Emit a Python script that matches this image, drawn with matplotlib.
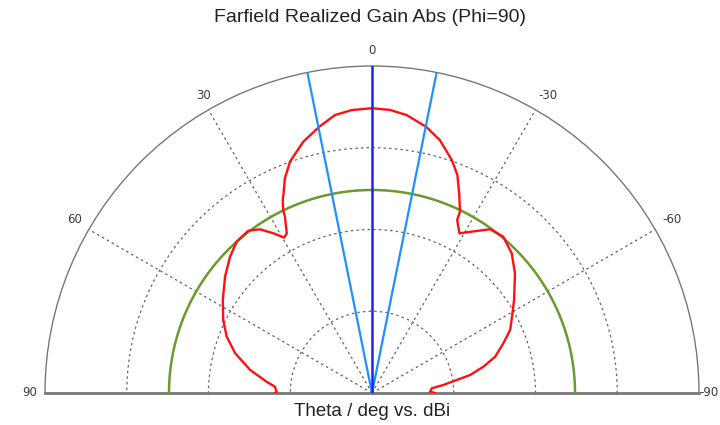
import numpy as np
import matplotlib
matplotlib.use("Agg")
import matplotlib.pyplot as plt

# ---- data ----
theta_deg = [-90, -88.7, -85.5, -83.6, -81.3, -79.6, -76.7, -73.6, -69.3, -65.5,
             -62.4, -56.8, -50.1, -45, -40, -35.8, -31.3, -28.7, -26.2, -25.9,
             -23.8, -21.4, -18.9, -15.0, -11.6, -7.1, -3.6, 0, 4.1, 7.6,
             11.2, 15.3, 19.5, 22.1, 24.1, 24.8, 25.9, 26.3, 28.1, 29.5,
             31.7, 34.4, 37.3, 41.8, 46.2, 51.6, 58.1, 63.9, 68.8, 73.8,
             79.3, 83.9, 86.3, 89.2, 90]
gain_dbi = [-6.69, -6.87, -6.80, -6.37, -5.86, -5.34, -4.80, -4.29, -3.85, -3.43,
            -3.22, -2.77, -2.16, -1.75, -1.51, -1.59, -2.08, -2.32, -1.92, -1.61,
            -1.06, -0.41, 0.04, 0.61, 0.96, 1.28, 1.41, 1.45, 1.41, 1.29,
            0.96, 0.56, 0.01, -0.50, -1.04, -1.19, -1.54, -1.79, -2.36, -2.45,
            -2.11, -1.72, -1.51, -1.55, -1.78, -2.12, -2.55, -2.92, -3.28, -3.77,
            -4.45, -5.11, -5.43, -5.50, -5.44]
level_3db = -1.55          # main lobe max - 3 dB
main_dir = 0.0             # main lobe direction (deg)
beam_edges = [-11.4, 11.4] # angular width markers (deg)
r_min, r_max = -9.0, 3.0
ring_levels = [-6, -3, 0]
angle_ticks = [0, 30, 60, 90, -30, -60, -90]

W, H = 720, 425
fig = plt.figure(figsize=(W / 100, H / 100), dpi=100)
cx, cy, R = 372, 393, 327
# box twice as large; the half-disc is centred inside it
bcx, bcy = cx, cy - R / 2
ax = fig.add_axes([(bcx - 2 * R) / W, (H - (bcy + R)) / H, 4 * R / W, 2 * R / H],
                  projection='polar')
ax.set_theta_zero_location('N')
ax.set_theta_direction(1)
ax.set_thetamin(-90)
ax.set_thetamax(90)
ax.set_rlim(r_min, r_max)
ax.set_rorigin(r_min)

ax.set_yticks(ring_levels)
ax.set_yticklabels([])
ax.set_xticks(np.deg2rad([-60, -30, 30, 60]))
ax.set_xticklabels([])
ax.tick_params(length=0)
ax.grid(True, color='#666666', linestyle=(0, (2, 2.5)), linewidth=0.9)

for name, sp in ax.spines.items():
    if name == 'polar':
        sp.set_color('#777777'); sp.set_linewidth(1.0)
    elif name in ('start', 'end'):
        sp.set_color('#777777'); sp.set_linewidth(2.0)
    else:
        sp.set_visible(False)

th = np.deg2rad(np.linspace(-90, 90, 361))
ax.plot(th, np.full_like(th, level_3db), color='#6b9a2e', lw=1.8, zorder=3)
ax.plot(np.deg2rad(theta_deg), gain_dbi, color='#ff1010', lw=1.7, zorder=4,
        solid_joinstyle='round')
for b in beam_edges:
    ax.plot([np.deg2rad(b)] * 2, [r_min, r_max], color='#1e90ff', lw=1.6, zorder=5)
ax.plot([np.deg2rad(main_dir)] * 2, [r_min, r_max], color='#2222ee', lw=1.8, zorder=6)

offsets = {0: (0, 15), 30: (-5, 14), 60: (-14, 10), 90: (-15, 0),
           -30: (12, 14), -60: (17, 10), -90: (10, 0)}
for a in angle_ticks:
    ax.annotate(str(a), xy=(np.deg2rad(a), r_max), xytext=offsets[a],
                textcoords='offset pixels', ha='center', va='center',
                fontsize=8.5, color='#3a3a4a', family='DejaVu Sans',
                annotation_clip=False)

fig.text(370 / W, 1 - 18 / H, 'Farfield Realized Gain Abs (Phi=90)', ha='center',
         va='center', fontsize=14, color='#222222', family='Liberation Sans')
fig.text(372 / W, 1 - 412 / H, 'Theta / deg vs. dBi', ha='center', va='center',
         fontsize=13.5, color='#222222', family='Liberation Sans')

fig.savefig('out.png', dpi=100)
